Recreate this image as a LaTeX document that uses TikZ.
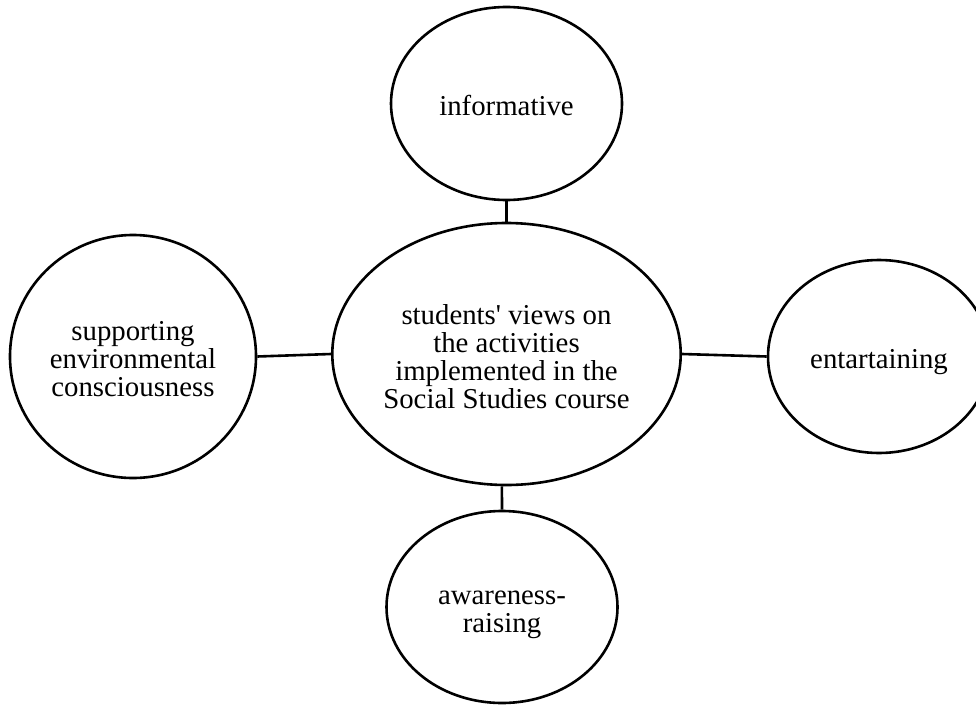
\documentclass[tikz,border=0pt]{standalone}
\usepackage{fontspec}
% keep the straight apostrophe as typed
\setmainfont{Liberation Serif}[Ligatures=TeXOff]
\usetikzlibrary{shapes.geometric}
% struts for the first and the last line of a label
\newcommand{\topstrut}{\rule{0pt}{30pt}}
\newcommand{\botstrut}{\rule[-6pt]{0pt}{0pt}}
\begin{document}
\begin{tikzpicture}[x=1pt,y=-1pt,
  bubble/.style={ellipse, draw=black, line width=2.6pt, inner sep=0pt,
    align=center, font=\fontsize{28.8}{28}\selectfont},
  link/.style={draw=black, line width=2.6pt}]
\useasboundingbox (0,0) rectangle (976,704);
\clip (0,0) rectangle (976,704);
% central topic
\node[bubble, minimum width=347pt, minimum height=262pt] (core) at (506.5,354)
  {\topstrut students' views on\\the activities\\implemented in the\\Social Studies course\botstrut};
% surrounding views
\node[bubble, minimum width=231pt, minimum height=193pt] (info) at (506.5,103.5) {\topstrut informative\botstrut};
\node[bubble, minimum width=246pt, minimum height=243pt] (env) at (133,356.5)
  {\topstrut supporting\\environmental\\consciousness\botstrut};
\node[bubble, minimum width=222pt, minimum height=193pt] (fun) at (879,356.5) {\topstrut entartaining\botstrut};
\node[bubble, minimum width=231pt, minimum height=192pt] (aware) at (502,607)
  {\topstrut awareness-\\raising\botstrut};
% connectors
\draw[link] (info.south) -- (core.north);
\draw[link] (env.east) -- (core.west);
\draw[link] (core.east) -- (fun.west);
\draw[link] (core.268) -- (aware.north);
\end{tikzpicture}
\end{document}
